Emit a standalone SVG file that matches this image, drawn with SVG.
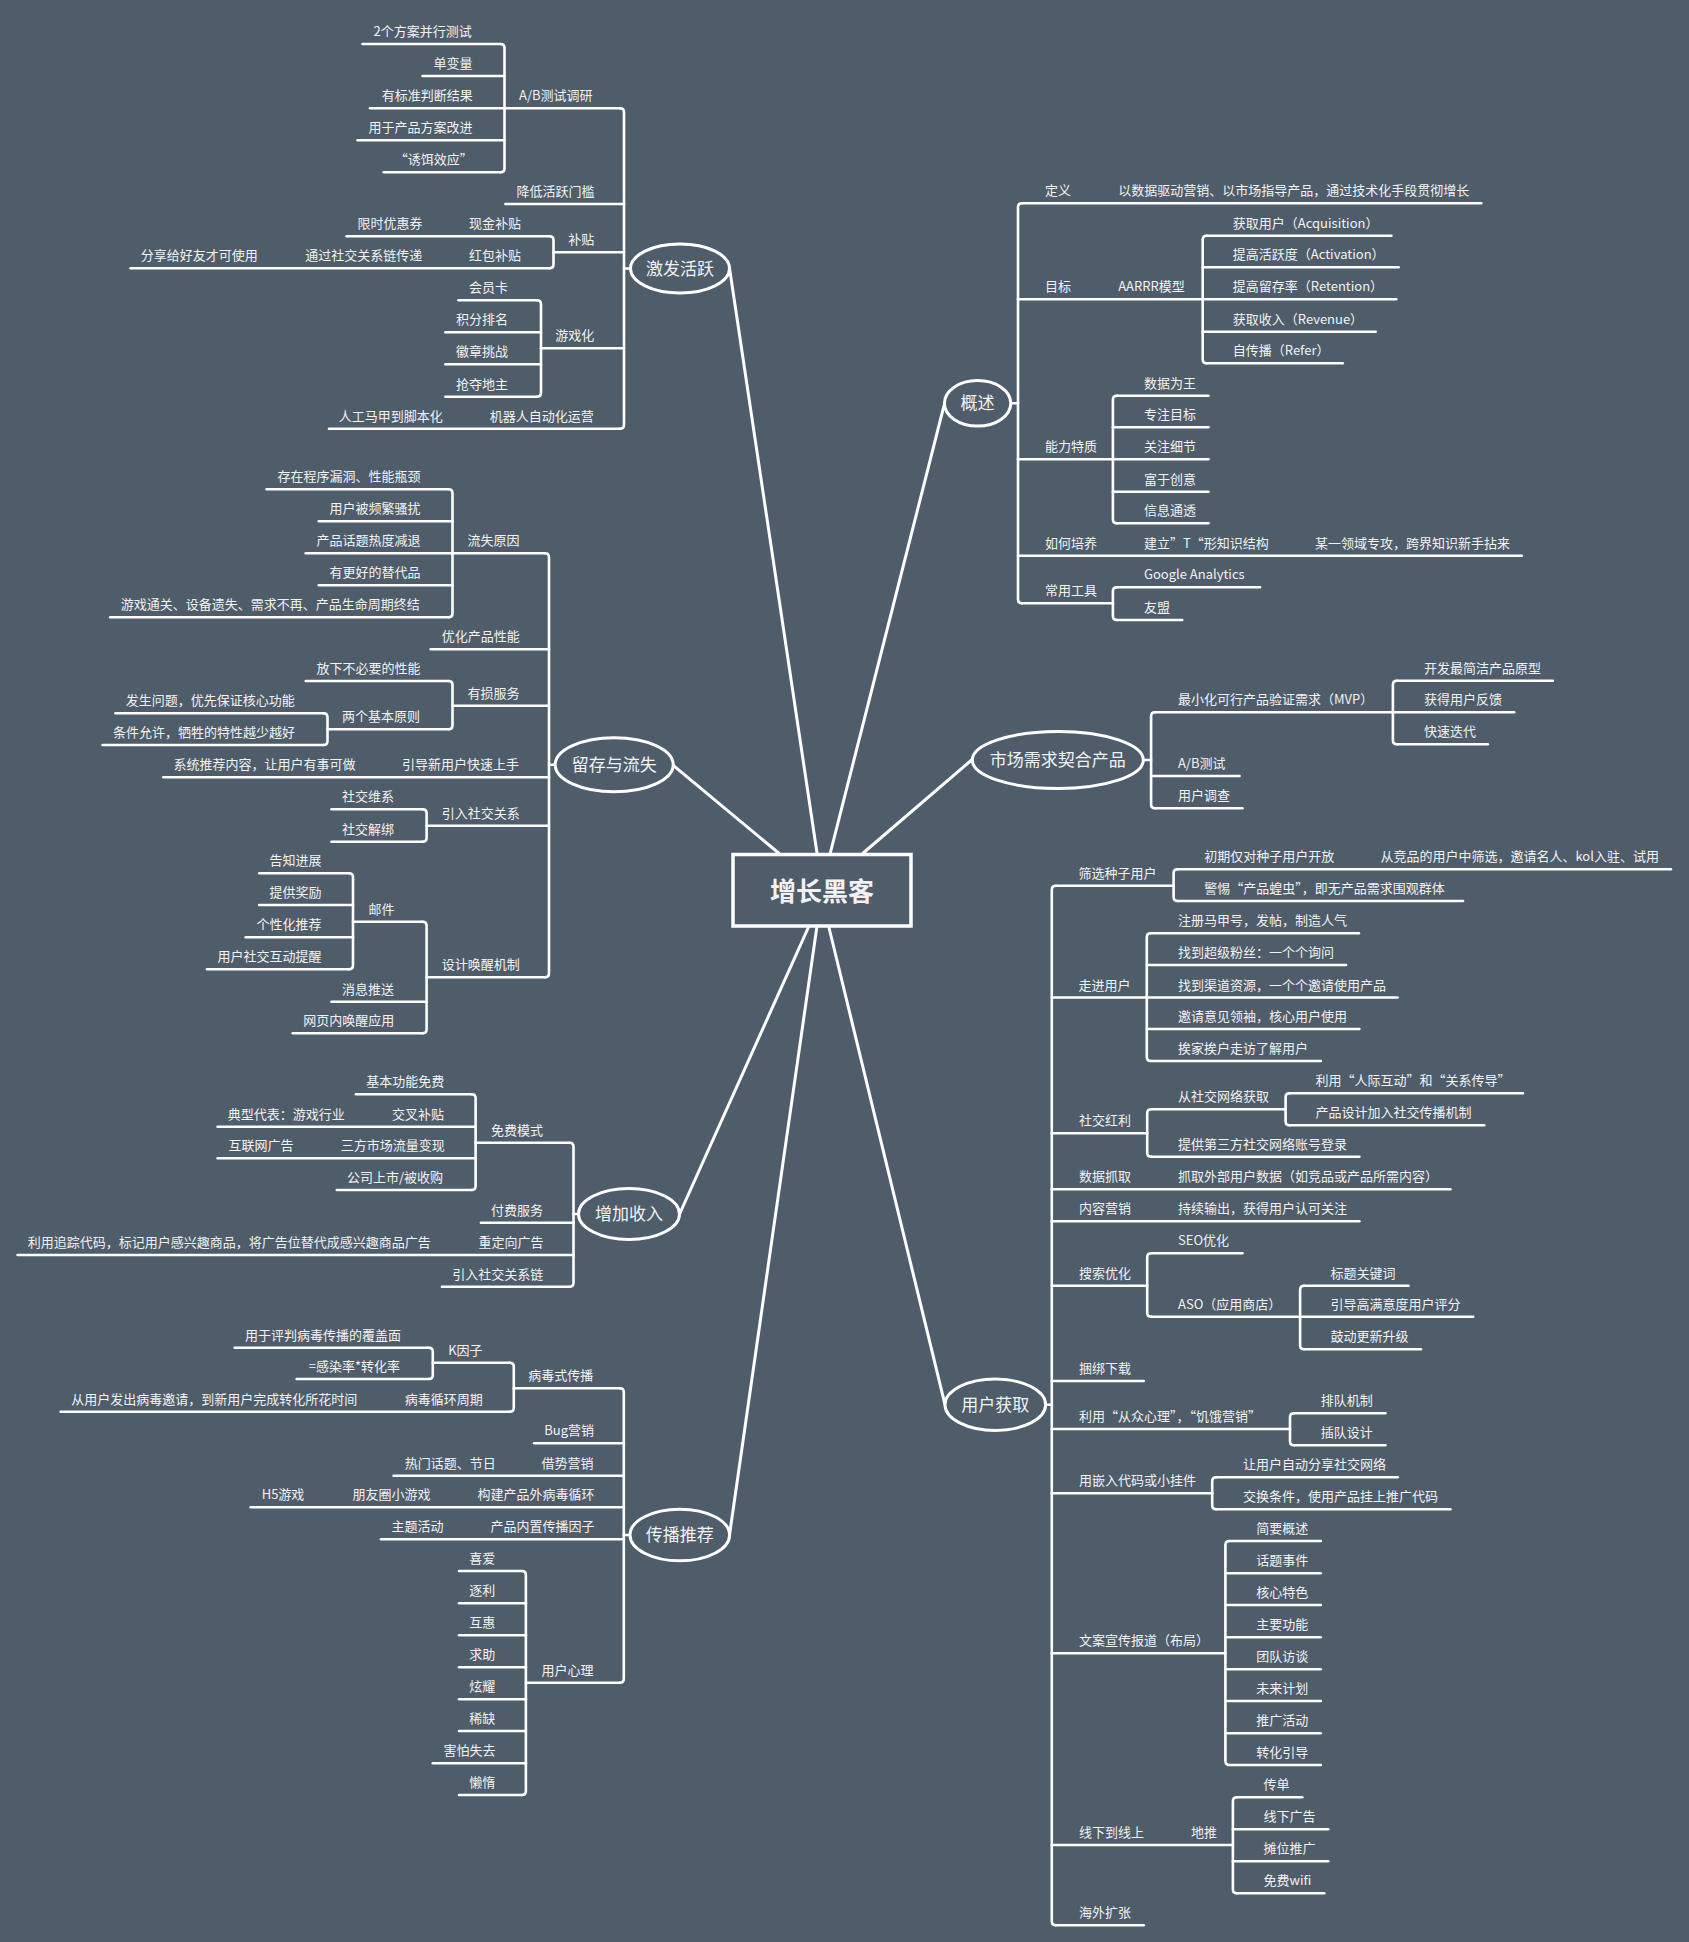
<svg xmlns="http://www.w3.org/2000/svg" width="1689" height="1942" viewBox="0 0 1689 1942">
<style>
.bg{fill:#4f5d6b}
.ln path{fill:none;stroke:#ffffff;stroke-width:2.6;stroke-linecap:round;stroke-linejoin:round}
.main path{fill:none;stroke:#ffffff;stroke-width:3;stroke-linecap:round}
.t{font-family:"Noto Sans CJK SC","Microsoft YaHei","Liberation Sans",sans-serif;font-size:13px;fill:#f2f2f2}
.e{font-family:"Noto Sans CJK SC","Microsoft YaHei","Liberation Sans",sans-serif;font-size:17px;fill:#f2f2f2;text-anchor:middle}
.c{font-family:"Noto Sans CJK SC","Microsoft YaHei","Liberation Sans",sans-serif;font-size:26px;font-weight:bold;fill:#f2f2f2;text-anchor:middle}
.el{fill:#4f5d6b;stroke:#ffffff;stroke-width:3}
</style>
<rect class="bg" x="0" y="0" width="1689" height="1942"/>

<g id="connectors">
<g class="main">
<path d="M817,853 L729.5,268"/>
<path d="M830.3,853 L944,405.7"/>
<path d="M778.6,853 L673.5,765.6"/>
<path d="M863.2,853 L971.6,760"/>
<path d="M809,926 L679.6,1214"/>
<path d="M817,926 L729.5,1535"/>
<path d="M828.6,926 L945,1404.7"/>
</g>
<g class="ln">
<!-- 激发活跃 -->
<path d="M620,108.3 Q624,108.3 624,112.3 V424.7 Q624,428.7 620,428.7"/>
<path d="M624,268.5 H630.5"/>
<path d="M504.5,108.3 H620"/>
<path d="M500.5,44 Q504.5,44 504.5,48 V168.3 Q504.5,172.3 500.5,172.3"/>
<path d="M362.5,44 H500.5"/>
<path d="M422.5,76 H504.5"/>
<path d="M370,108.3 H504.5"/>
<path d="M357.6,140.3 H504.5"/>
<path d="M383.7,172.3 H500.5"/>
<path d="M505.4,204 H624"/>
<path d="M553.5,252.3 H624"/>
<path d="M549.5,236.3 Q553.5,236.3 553.5,240.3 V264.3 Q553.5,268.3 549.5,268.3"/>
<path d="M346.6,236.3 H549.5"/>
<path d="M130.6,268.3 H549.5"/>
<path d="M541,348.3 H624"/>
<path d="M537,300.3 Q541,300.3 541,304.3 V392.7 Q541,396.7 537,396.7"/>
<path d="M458.4,300.3 H537"/>
<path d="M445.4,332.3 H541"/>
<path d="M445.4,364.3 H541"/>
<path d="M445.4,396.7 H537"/>
<path d="M329,428.7 H620"/>
<!-- 留存与流失 -->
<path d="M545,553.3 Q549,553.3 549,557.3 V973.3 Q549,977.3 545,977.3"/>
<path d="M549,764.7 H555.2"/>
<path d="M452.5,553.3 H545"/>
<path d="M448.5,489.3 Q452.5,489.3 452.5,493.3 V613.3 Q452.5,617.3 448.5,617.3"/>
<path d="M266.6,489.3 H448.5"/>
<path d="M318.8,521.3 H452.5"/>
<path d="M305.7,553.3 H452.5"/>
<path d="M318.8,585.3 H452.5"/>
<path d="M110.2,617.3 H448.5"/>
<path d="M430.7,649.3 H549"/>
<path d="M452.5,705.7 H549"/>
<path d="M448.5,681 Q452.5,681 452.5,685 V725.3 Q452.5,729.3 448.5,729.3"/>
<path d="M305.7,681 H448.5"/>
<path d="M327.5,729.3 H448.5"/>
<path d="M323.5,713.3 Q327.5,713.3 327.5,717.3 V741 Q327.5,745 323.5,745"/>
<path d="M115.5,713.3 H323.5"/>
<path d="M102.5,745 H323.5"/>
<path d="M163.3,777.3 H549"/>
<path d="M426.6,825.7 H549"/>
<path d="M422.6,809.3 Q426.6,809.3 426.6,813.3 V837.7 Q426.6,841.7 422.6,841.7"/>
<path d="M331.5,809.3 H422.6"/>
<path d="M331.5,841.7 H422.6"/>
<path d="M426.6,977.3 H545"/>
<path d="M422.6,921.7 Q426.6,921.7 426.6,925.7 V1029.3 Q426.6,1033.3 422.6,1033.3"/>
<path d="M353,921.7 H422.6"/>
<path d="M349,873.3 Q353,873.3 353,877.3 V965.3 Q353,969.3 349,969.3"/>
<path d="M259.2,873.3 H349"/>
<path d="M259.2,905 H353"/>
<path d="M245.7,937.3 H353"/>
<path d="M207,969.3 H349"/>
<path d="M331.5,1001.7 H426.6"/>
<path d="M292.7,1033.3 H422.6"/>
<!-- 增加收入 -->
<path d="M569.5,1142.7 Q573.5,1142.7 573.5,1146.7 V1282.7 Q573.5,1286.7 569.5,1286.7"/>
<path d="M573.5,1214 H579"/>
<path d="M475.6,1142.7 H569.5"/>
<path d="M471.6,1094.3 Q475.6,1094.3 475.6,1098.3 V1186 Q475.6,1190 471.6,1190"/>
<path d="M356,1094.3 H471.6"/>
<path d="M217.6,1126.7 H475.6"/>
<path d="M217.6,1158.3 H475.6"/>
<path d="M336.8,1190 H471.6"/>
<path d="M480.9,1222.7 H573.5"/>
<path d="M17.6,1255 H573.5"/>
<path d="M442,1286.7 H569.5"/>
<!-- 传播推荐 -->
<path d="M619.8,1388.3 Q623.8,1388.3 623.8,1392.3 V1678.7 Q623.8,1682.7 619.8,1682.7"/>
<path d="M623.8,1535 H630"/>
<path d="M513.8,1388.3 H619.8"/>
<path d="M509.8,1362.7 Q513.8,1362.7 513.8,1366.7 V1407.7 Q513.8,1411.7 509.8,1411.7"/>
<path d="M432.8,1362.7 H509.8"/>
<path d="M428.8,1347.7 Q432.8,1347.7 432.8,1351.7 V1375 Q432.8,1379 428.8,1379"/>
<path d="M234.7,1347.7 H428.8"/>
<path d="M296.6,1379 H428.8"/>
<path d="M60.6,1411.7 H509.8"/>
<path d="M534.1,1443.3 H623.8"/>
<path d="M393.6,1475.7 H623.8"/>
<path d="M250.6,1507.3 H623.8"/>
<path d="M381,1539.3 H623.8"/>
<path d="M525.9,1682.7 H619.8"/>
<path d="M521.9,1571 Q525.9,1571 525.9,1575 V1791 Q525.9,1795 521.9,1795"/>
<path d="M459,1571 H521.9"/>
<path d="M459,1603.3 H525.9"/>
<path d="M459,1635.3 H525.9"/>
<path d="M459,1667.3 H525.9"/>
<path d="M459,1699.3 H525.9"/>
<path d="M459,1731 H525.9"/>
<path d="M432.8,1763.3 H525.9"/>
<path d="M459,1795 H521.9"/>
<!-- 概述 -->
<path d="M1022,203.3 Q1018,203.3 1018,207.3 V599.3 Q1018,603.3 1022,603.3"/>
<path d="M1011,403.3 H1018"/>
<path d="M1022,203.3 H1481.2"/>
<path d="M1018,299.3 H1202.7"/>
<path d="M1206.7,235.7 Q1202.7,235.7 1202.7,239.7 V359.3 Q1202.7,363.3 1206.7,363.3"/>
<path d="M1206.7,235.7 H1391.4"/>
<path d="M1202.7,267.3 H1398.6"/>
<path d="M1202.7,299.3 H1396.2"/>
<path d="M1202.7,331.7 H1375.7"/>
<path d="M1206.7,363.3 H1342.7"/>
<path d="M1018,459.3 H1112.9"/>
<path d="M1116.9,395.7 Q1112.9,395.7 1112.9,399.7 V519.3 Q1112.9,523.3 1116.9,523.3"/>
<path d="M1116.9,395.7 H1208.5"/>
<path d="M1112.9,427.3 H1208.5"/>
<path d="M1112.9,459.3 H1208.5"/>
<path d="M1112.9,491.7 H1208.5"/>
<path d="M1116.9,523.3 H1208.5"/>
<path d="M1018,555.7 H1521.8"/>
<path d="M1022,603.3 H1112.9"/>
<path d="M1116.9,587.3 Q1112.9,587.3 1112.9,591.3 V616 Q1112.9,620 1116.9,620"/>
<path d="M1116.9,587.3 H1260"/>
<path d="M1116.9,620 H1182.2"/>
<!-- 市场需求契合产品 -->
<path d="M1155.1,712.3 Q1151.1,712.3 1151.1,716.3 V804.3 Q1151.1,808.3 1155.1,808.3"/>
<path d="M1143,760 H1151.1"/>
<path d="M1155.1,712.3 H1392.9"/>
<path d="M1396.9,680.7 Q1392.9,680.7 1392.9,684.7 V740.3 Q1392.9,744.3 1396.9,744.3"/>
<path d="M1396.9,680.7 H1552.9"/>
<path d="M1392.9,712.3 H1514.2"/>
<path d="M1396.9,744.3 H1487.9"/>
<path d="M1151.1,776 H1239.5"/>
<path d="M1155.1,808.3 H1242.4"/>
<!-- 用户获取 -->
<path d="M1055.8,885.7 Q1051.8,885.7 1051.8,889.7 V1921.3 Q1051.8,1925.3 1055.8,1925.3"/>
<path d="M1045.7,1404.7 H1051.8"/>
<path d="M1055.8,885.7 H1173.6"/>
<path d="M1177.6,869.3 Q1173.6,869.3 1173.6,873.3 V897 Q1173.6,901 1177.6,901"/>
<path d="M1177.6,869.3 H1670.9"/>
<path d="M1177.6,901 H1463"/>
<path d="M1051.8,997.5 H1146.8"/>
<path d="M1150.8,933.3 Q1146.8,933.3 1146.8,937.3 V1057 Q1146.8,1061 1150.8,1061"/>
<path d="M1150.8,933.3 H1358.9"/>
<path d="M1146.8,965 H1346"/>
<path d="M1146.8,997.5 H1397.6"/>
<path d="M1146.8,1029 H1359.4"/>
<path d="M1150.8,1061 H1320.8"/>
<path d="M1051.8,1133.3 H1147.2"/>
<path d="M1151.2,1109.3 Q1147.2,1109.3 1147.2,1113.3 V1152.7 Q1147.2,1156.7 1151.2,1156.7"/>
<path d="M1151.2,1109.3 H1285.6"/>
<path d="M1289.6,1093.3 Q1285.6,1093.3 1285.6,1097.3 V1121.3 Q1285.6,1125.3 1289.6,1125.3"/>
<path d="M1289.6,1093.3 H1522.9"/>
<path d="M1289.6,1125.3 H1484.2"/>
<path d="M1151.2,1156.7 H1359.4"/>
<path d="M1051.8,1189.3 H1450.4"/>
<path d="M1051.8,1221.3 H1359.4"/>
<path d="M1051.8,1285.7 H1147.2"/>
<path d="M1151.2,1253.3 Q1147.2,1253.3 1147.2,1257.3 V1312.7 Q1147.2,1316.7 1151.2,1316.7"/>
<path d="M1151.2,1253.3 H1242.5"/>
<path d="M1151.2,1316.7 H1300.1"/>
<path d="M1304.1,1285.7 Q1300.1,1285.7 1300.1,1289.7 V1345.3 Q1300.1,1349.3 1304.1,1349.3"/>
<path d="M1304.1,1285.7 H1408.6"/>
<path d="M1300.1,1316.7 H1473.2"/>
<path d="M1304.1,1349.3 H1421"/>
<path d="M1051.8,1381 H1143.7"/>
<path d="M1051.8,1429 H1290"/>
<path d="M1294,1413.3 Q1290,1413.3 1290,1417.3 V1441.3 Q1290,1445.3 1294,1445.3"/>
<path d="M1294,1413.3 H1385.4"/>
<path d="M1294,1445.3 H1385.4"/>
<path d="M1051.8,1493.3 H1212.2"/>
<path d="M1216.2,1477.3 Q1212.2,1477.3 1212.2,1481.3 V1505.3 Q1212.2,1509.3 1216.2,1509.3"/>
<path d="M1216.2,1477.3 H1397.7"/>
<path d="M1216.2,1509.3 H1450.4"/>
<path d="M1051.8,1653.3 H1225.4"/>
<path d="M1229.4,1541 Q1225.4,1541 1225.4,1545 V1761 Q1225.4,1765 1229.4,1765"/>
<path d="M1229.4,1541 H1320.8"/>
<path d="M1225.4,1573.3 H1320.8"/>
<path d="M1225.4,1605 H1320.8"/>
<path d="M1225.4,1637.3 H1320.8"/>
<path d="M1225.4,1669.3 H1320.8"/>
<path d="M1225.4,1701 H1320.8"/>
<path d="M1225.4,1733.3 H1320.8"/>
<path d="M1229.4,1765 H1320.8"/>
<path d="M1051.8,1845 H1232.9"/>
<path d="M1236.9,1797.3 Q1232.9,1797.3 1232.9,1801.3 V1889.3 Q1232.9,1893.3 1236.9,1893.3"/>
<path d="M1236.9,1797.3 H1302.3"/>
<path d="M1232.9,1829.3 H1328.2"/>
<path d="M1232.9,1861.3 H1328.2"/>
<path d="M1236.9,1893.3 H1324.3"/>
<path d="M1055.8,1925.3 H1143.7"/>
</g>
</g>

<g id="root"><rect x="733" y="854.5" width="178" height="71.5" fill="#4f5d6b" stroke="#ffffff" stroke-width="3.5"/><text class="c" x="822" y="901">增长黑客</text></g>

<g id="b-jfhy"><ellipse class="el" cx="680" cy="268.5" rx="49.5" ry="24.5"/><text class="e" x="680" y="274.5">激发活跃</text></g>
<g id="b-gs"><ellipse class="el" cx="977.6" cy="403.3" rx="33.2" ry="22.8"/><text class="e" x="977.6" y="409.3">概述</text></g>
<g id="b-lc"><ellipse class="el" cx="614.2" cy="764.7" rx="59" ry="27"/><text class="e" x="614.2" y="770.7">留存与流失</text></g>
<g id="b-sc"><ellipse class="el" cx="1057.8" cy="760" rx="85.5" ry="28.5"/><text class="e" x="1057.8" y="766">市场需求契合产品</text></g>
<g id="b-zj"><ellipse class="el" cx="629" cy="1214" rx="50.5" ry="25.5"/><text class="e" x="629" y="1220">增加收入</text></g>
<g id="b-cb"><ellipse class="el" cx="679.8" cy="1535" rx="49.8" ry="25.8"/><text class="e" x="679.8" y="1541">传播推荐</text></g>
<g id="b-yh"><ellipse class="el" cx="995.3" cy="1404.7" rx="50.3" ry="25.7"/><text class="e" x="995.3" y="1410.7">用户获取</text></g>

<g id="n1"><text class="t" x="373.5" y="36">2个方案并行测试</text></g>
<g id="n2"><text class="t" x="433.5" y="68">单变量</text></g>
<g id="n3"><text class="t" x="381.7" y="100.3">有标准判断结果</text></g>
<g id="n4"><text class="t" x="368.6" y="132.3">用于产品方案改进</text></g>
<g id="n5"><text class="t" x="394.7" y="164.3">“诱饵效应”</text></g>
<g id="n6"><text class="t" x="519" y="100.3">A/B测试调研</text></g>
<g id="n7"><text class="t" x="516.4" y="196">降低活跃门槛</text></g>
<g id="n8"><text class="t" x="357.6" y="228.3">限时优惠券</text></g>
<g id="n9"><text class="t" x="469" y="228.3">现金补贴</text></g>
<g id="n10"><text class="t" x="140.8" y="260.3">分享给好友才可使用</text></g>
<g id="n11"><text class="t" x="305.3" y="260.3">通过社交关系链传递</text></g>
<g id="n12"><text class="t" x="469" y="260.3">红包补贴</text></g>
<g id="n13"><text class="t" x="568.2" y="244.3">补贴</text></g>
<g id="n14"><text class="t" x="469" y="292.3">会员卡</text></g>
<g id="n15"><text class="t" x="456" y="324.3">积分排名</text></g>
<g id="n16"><text class="t" x="456" y="356.3">徽章挑战</text></g>
<g id="n17"><text class="t" x="456" y="388.7">抢夺地主</text></g>
<g id="n18"><text class="t" x="555.2" y="340.3">游戏化</text></g>
<g id="n19"><text class="t" x="338.8" y="420.7">人工马甲到脚本化</text></g>
<g id="n20"><text class="t" x="489.8" y="420.7">机器人自动化运营</text></g>

<g id="n21"><text class="t" x="277.6" y="481.3">存在程序漏洞、性能瓶颈</text></g>
<g id="n22"><text class="t" x="329.4" y="513.3">用户被频繁骚扰</text></g>
<g id="n23"><text class="t" x="316.4" y="545.3">产品话题热度减退</text></g>
<g id="n24"><text class="t" x="329.4" y="577.3">有更好的替代品</text></g>
<g id="n25"><text class="t" x="120.8" y="609.3">游戏通关、设备遗失、需求不再、产品生命周期终结</text></g>
<g id="n26"><text class="t" x="467.4" y="545.3">流失原因</text></g>
<g id="n27"><text class="t" x="441.7" y="641.3">优化产品性能</text></g>
<g id="n28"><text class="t" x="316.4" y="673">放下不必要的性能</text></g>
<g id="n29"><text class="t" x="125.7" y="705.3">发生问题，优先保证核心功能</text></g>
<g id="n30"><text class="t" x="113" y="737">条件允许，牺牲的特性越少越好</text></g>
<g id="n31"><text class="t" x="342" y="721.3">两个基本原则</text></g>
<g id="n32"><text class="t" x="467.4" y="697.7">有损服务</text></g>
<g id="n33"><text class="t" x="173.5" y="769.3">系统推荐内容，让用户有事可做</text></g>
<g id="n34"><text class="t" x="402" y="769.3">引导新用户快速上手</text></g>
<g id="n35"><text class="t" x="342" y="801.3">社交维系</text></g>
<g id="n36"><text class="t" x="342" y="833.7">社交解绑</text></g>
<g id="n37"><text class="t" x="441.7" y="817.7">引入社交关系</text></g>
<g id="n38"><text class="t" x="269.4" y="865.3">告知进展</text></g>
<g id="n39"><text class="t" x="269.4" y="897">提供奖励</text></g>
<g id="n40"><text class="t" x="256.4" y="929.3">个性化推荐</text></g>
<g id="n41"><text class="t" x="217.6" y="961.3">用户社交互动提醒</text></g>
<g id="n42"><text class="t" x="368.6" y="913.7">邮件</text></g>
<g id="n43"><text class="t" x="342" y="993.7">消息推送</text></g>
<g id="n44"><text class="t" x="303.3" y="1025.3">网页内唤醒应用</text></g>
<g id="n45"><text class="t" x="441.7" y="969.3">设计唤醒机制</text></g>

<g id="n46"><text class="t" x="366.2" y="1086.3">基本功能免费</text></g>
<g id="n47"><text class="t" x="227.8" y="1118.7">典型代表：游戏行业</text></g>
<g id="n48"><text class="t" x="391.9" y="1118.7">交叉补贴</text></g>
<g id="n49"><text class="t" x="228.6" y="1150.3">互联网广告</text></g>
<g id="n50"><text class="t" x="340.8" y="1150.3">三方市场流量变现</text></g>
<g id="n51"><text class="t" x="347" y="1182">公司上市/被收购</text></g>
<g id="n52"><text class="t" x="491" y="1134.7">免费模式</text></g>
<g id="n53"><text class="t" x="491" y="1214.7">付费服务</text></g>
<g id="n54"><text class="t" x="27.8" y="1247">利用追踪代码，标记用户感兴趣商品，将广告位替代成感兴趣商品广告</text></g>
<g id="n55"><text class="t" x="478.4" y="1247">重定向广告</text></g>
<g id="n56"><text class="t" x="452.3" y="1278.7">引入社交关系链</text></g>

<g id="n57"><text class="t" x="244.9" y="1339.7">用于评判病毒传播的覆盖面</text></g>
<g id="n58"><text class="t" x="308.7" y="1371">=感染率*转化率</text></g>
<g id="n59"><text class="t" x="448.2" y="1354.7">K因子</text></g>
<g id="n60"><text class="t" x="71.3" y="1403.7">从用户发出病毒邀请，到新用户完成转化所花时间</text></g>
<g id="n61"><text class="t" x="404.7" y="1403.7">病毒循环周期</text></g>
<g id="n62"><text class="t" x="528.3" y="1380.3">病毒式传播</text></g>
<g id="n63"><text class="t" x="544.3" y="1435.3">Bug营销</text></g>
<g id="n64"><text class="t" x="404.7" y="1467.7">热门话题、节日</text></g>
<g id="n65"><text class="t" x="541.4" y="1467.7">借势营销</text></g>
<g id="n66"><text class="t" x="261.7" y="1499.3">H5游戏</text></g>
<g id="n67"><text class="t" x="352.4" y="1499.3">朋友圈小游戏</text></g>
<g id="n68"><text class="t" x="477.4" y="1499.3">构建产品外病毒循环</text></g>
<g id="n69"><text class="t" x="391.6" y="1531.3">主题活动</text></g>
<g id="n70"><text class="t" x="490.5" y="1531.3">产品内置传播因子</text></g>
<g id="n71"><text class="t" x="469.2" y="1563">喜爱</text></g>
<g id="n72"><text class="t" x="469.2" y="1595.3">逐利</text></g>
<g id="n73"><text class="t" x="469.2" y="1627.3">互惠</text></g>
<g id="n74"><text class="t" x="469.2" y="1659.3">求助</text></g>
<g id="n75"><text class="t" x="469.2" y="1691.3">炫耀</text></g>
<g id="n76"><text class="t" x="469.2" y="1723">稀缺</text></g>
<g id="n77"><text class="t" x="443.5" y="1755.3">害怕失去</text></g>
<g id="n78"><text class="t" x="469.2" y="1787">懒惰</text></g>
<g id="n79"><text class="t" x="541.4" y="1674.7">用户心理</text></g>

<g id="n80"><text class="t" x="1045.1" y="195.3">定义</text></g>
<g id="n81"><text class="t" x="1118.2" y="195.3">以数据驱动营销、以市场指导产品，通过技术化手段贯彻增长</text></g>
<g id="n82"><text class="t" x="1045.1" y="291.3">目标</text></g>
<g id="n83"><text class="t" x="1118.2" y="291.3">AARRR模型</text></g>
<g id="n84"><text class="t" x="1232.8" y="227.7">获取用户（Acquisition）</text></g>
<g id="n85"><text class="t" x="1232.8" y="259.3">提高活跃度（Activation）</text></g>
<g id="n86"><text class="t" x="1232.8" y="291.3">提高留存率（Retention）</text></g>
<g id="n87"><text class="t" x="1232.8" y="323.7">获取收入（Revenue）</text></g>
<g id="n88"><text class="t" x="1232.8" y="355.3">自传播（Refer）</text></g>
<g id="n89"><text class="t" x="1045.1" y="451.3">能力特质</text></g>
<g id="n90"><text class="t" x="1144" y="387.7">数据为王</text></g>
<g id="n91"><text class="t" x="1144" y="419.3">专注目标</text></g>
<g id="n92"><text class="t" x="1144" y="451.3">关注细节</text></g>
<g id="n93"><text class="t" x="1144" y="483.7">富于创意</text></g>
<g id="n94"><text class="t" x="1144" y="515.3">信息通透</text></g>
<g id="n95"><text class="t" x="1045.1" y="547.7">如何培养</text></g>
<g id="n96"><text class="t" x="1144" y="547.7">建立”T“形知识结构</text></g>
<g id="n97"><text class="t" x="1315" y="547.7">某一领域专攻，跨界知识新手拈来</text></g>
<g id="n98"><text class="t" x="1045.1" y="595.3">常用工具</text></g>
<g id="n99"><text class="t" x="1144" y="579.3">Google Analytics</text></g>
<g id="n100"><text class="t" x="1144" y="612">友盟</text></g>

<g id="n101"><text class="t" x="1177.9" y="704.3">最小化可行产品验证需求（MVP）</text></g>
<g id="n102"><text class="t" x="1423.9" y="672.7">开发最简洁产品原型</text></g>
<g id="n103"><text class="t" x="1423.9" y="704.3">获得用户反馈</text></g>
<g id="n104"><text class="t" x="1423.9" y="736.3">快速迭代</text></g>
<g id="n105"><text class="t" x="1177.9" y="768">A/B测试</text></g>
<g id="n106"><text class="t" x="1177.9" y="800.3">用户调查</text></g>

<g id="n107"><text class="t" x="1078.5" y="877.7">筛选种子用户</text></g>
<g id="n108"><text class="t" x="1204.2" y="861.3">初期仅对种子用户开放</text></g>
<g id="n109"><text class="t" x="1380.4" y="861.3">从竞品的用户中筛选，邀请名人、kol入驻、试用</text></g>
<g id="n110"><text class="t" x="1204.2" y="893">警惕“产品蝗虫”，即无产品需求围观群体</text></g>
<g id="n111"><text class="t" x="1078.5" y="989.5">走进用户</text></g>
<g id="n112"><text class="t" x="1177.9" y="925.3">注册马甲号，发帖，制造人气</text></g>
<g id="n113"><text class="t" x="1177.9" y="957">找到超级粉丝：一个个询问</text></g>
<g id="n114"><text class="t" x="1177.9" y="989.5">找到渠道资源，一个个邀请使用产品</text></g>
<g id="n115"><text class="t" x="1177.9" y="1021">邀请意见领袖，核心用户使用</text></g>
<g id="n116"><text class="t" x="1177.9" y="1053">挨家挨户走访了解用户</text></g>
<g id="n117"><text class="t" x="1079.1" y="1125.3">社交红利</text></g>
<g id="n118"><text class="t" x="1178" y="1101.3">从社交网络获取</text></g>
<g id="n119"><text class="t" x="1315.5" y="1085.3">利用“人际互动”和“关系传导”</text></g>
<g id="n120"><text class="t" x="1315.5" y="1117.3">产品设计加入社交传播机制</text></g>
<g id="n121"><text class="t" x="1178" y="1148.7">提供第三方社交网络账号登录</text></g>
<g id="n122"><text class="t" x="1079.1" y="1181.3">数据抓取</text></g>
<g id="n123"><text class="t" x="1178" y="1181.3">抓取外部用户数据（如竞品或产品所需内容）</text></g>
<g id="n124"><text class="t" x="1079.1" y="1213.3">内容营销</text></g>
<g id="n125"><text class="t" x="1178" y="1213.3">持续输出，获得用户认可关注</text></g>
<g id="n126"><text class="t" x="1079.1" y="1277.7">搜索优化</text></g>
<g id="n127"><text class="t" x="1178" y="1245.3">SEO优化</text></g>
<g id="n128"><text class="t" x="1178" y="1308.7">ASO（应用商店）</text></g>
<g id="n129"><text class="t" x="1330.4" y="1277.7">标题关键词</text></g>
<g id="n130"><text class="t" x="1330.4" y="1308.7">引导高满意度用户评分</text></g>
<g id="n131"><text class="t" x="1330.4" y="1341.3">鼓动更新升级</text></g>
<g id="n132"><text class="t" x="1079.1" y="1373">捆绑下载</text></g>
<g id="n133"><text class="t" x="1079.1" y="1421">利用“从众心理”，“饥饿营销”</text></g>
<g id="n134"><text class="t" x="1320.8" y="1405.3">排队机制</text></g>
<g id="n135"><text class="t" x="1320.8" y="1437.3">插队设计</text></g>
<g id="n136"><text class="t" x="1079.1" y="1485.3">用嵌入代码或小挂件</text></g>
<g id="n137"><text class="t" x="1243" y="1469.3">让用户自动分享社交网络</text></g>
<g id="n138"><text class="t" x="1243" y="1501.3">交换条件，使用产品挂上推广代码</text></g>
<g id="n139"><text class="t" x="1079.1" y="1645.3">文案宣传报道（布局）</text></g>
<g id="n140"><text class="t" x="1256.2" y="1533">简要概述</text></g>
<g id="n141"><text class="t" x="1256.2" y="1565.3">话题事件</text></g>
<g id="n142"><text class="t" x="1256.2" y="1597">核心特色</text></g>
<g id="n143"><text class="t" x="1256.2" y="1629.3">主要功能</text></g>
<g id="n144"><text class="t" x="1256.2" y="1661.3">团队访谈</text></g>
<g id="n145"><text class="t" x="1256.2" y="1693">未来计划</text></g>
<g id="n146"><text class="t" x="1256.2" y="1725.3">推广活动</text></g>
<g id="n147"><text class="t" x="1256.2" y="1757">转化引导</text></g>
<g id="n148"><text class="t" x="1079.1" y="1837">线下到线上</text></g>
<g id="n149"><text class="t" x="1191.1" y="1837">地推</text></g>
<g id="n150"><text class="t" x="1263.6" y="1789.3">传单</text></g>
<g id="n151"><text class="t" x="1263.6" y="1821.3">线下广告</text></g>
<g id="n152"><text class="t" x="1263.6" y="1853.3">摊位推广</text></g>
<g id="n153"><text class="t" x="1263.6" y="1885.3">免费wifi</text></g>
<g id="n154"><text class="t" x="1079.1" y="1917.3">海外扩张</text></g>
</svg>
